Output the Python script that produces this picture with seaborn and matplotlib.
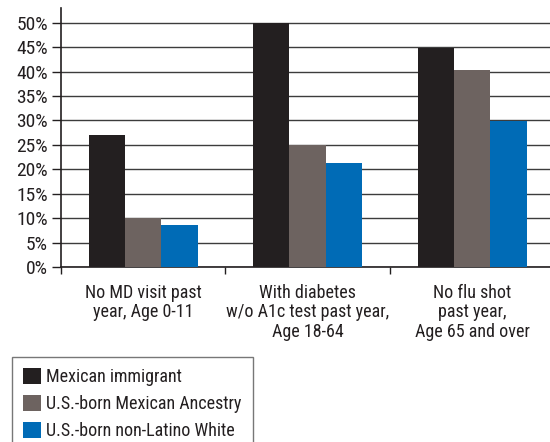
import matplotlib
matplotlib.use("Agg")
import matplotlib.pyplot as plt
from matplotlib import font_manager
import numpy as np
import pandas as pd
import seaborn as sns

categories = [
    "No MD visit past\nyear, Age 0-11",
    "With diabetes\nw/o A1c test past year,\nAge 18-64",
    "No flu shot\npast year,\nAge 65 and over",
]
groups = ["Mexican immigrant", "U.S.-born Mexican Ancestry", "U.S.-born non-Latino White"]
mexican_immigrant = [27.0, 50.0, 44.8]
us_born_mexican = [10.0, 25.0, 40.4]
us_born_white = [8.6, 21.3, 29.8]
colors = ["#231f20", "#6d6360", "#006bb6"]
y_ticks = [0, 5, 10, 15, 20, 25, 30, 35, 40, 45, 50]
y_tick_labels = [f"{v}%" for v in y_ticks]

rows = []
for g, vals in zip(groups, [mexican_immigrant, us_born_mexican, us_born_white]):
    for c, v in zip(categories, vals):
        rows.append({"category": c, "group": g, "value": v})
df = pd.DataFrame(rows)

sns.set_theme(style="white")

# pick a narrow sans face when one is installed
entries = font_manager.fontManager.ttflist
names = {f.name for f in entries}
family = None
for cand in ["Liberation Sans Narrow", "Roboto Condensed", "Open Sans Condensed",
             "DejaVu Sans Condensed"]:
    if cand in names:
        family = cand
        break
stretch = "normal"
if family is None:
    condensed = [f for f in entries if f.name in ("DejaVu Sans", "Roboto", "Open Sans")
                 and str(f.stretch) in ("condensed", "semi-condensed", "75", "87")
                 and f.style == "normal"]
    if condensed:
        family = condensed[0].name
        stretch = "condensed"
    else:
        family = "DejaVu Sans"
plt.rcParams["font.family"] = [family, "DejaVu Sans"]
plt.rcParams["font.stretch"] = stretch
fs = 13
fs_y = 14

fig = plt.figure(figsize=(5.5, 4.42), dpi=100)
ax = fig.add_axes([61 / 550, 1 - 267 / 442, 1 - 61 / 550, (267 - 8) / 442])

sns.barplot(data=df, x="category", y="value", hue="group", order=categories,
            hue_order=groups, palette=colors, width=0.665, gap=0,
            saturation=1, linewidth=0, ax=ax, zorder=3, legend=True)

ax.set_ylim(0, 53)
ax.set_xlim(-0.5, 2.473)
ax.set_yticks(y_ticks)
ax.set_yticklabels(y_tick_labels, fontsize=fs_y, color="#231f20")
ax.yaxis.grid(True, color="#3c3c3c", linewidth=1.0, zorder=0)
ax.set_axisbelow(True)

ax.set_xticks([-0.5, 0.5, 1.5])
ax.set_xticklabels([])
ax.set_xticks([0, 1, 2], minor=True)
ax.set_xticklabels(categories, minor=True, fontsize=fs, color="#231f20",
                   linespacing=1.12)
ax.tick_params(axis="x", which="major", direction="out", length=5, width=1,
               color="#231f20", bottom=True)
ax.tick_params(axis="x", which="minor", length=0, pad=12)
ax.tick_params(axis="y", direction="out", length=6.5, width=1, color="#231f20",
               left=True, pad=3)

ax.set_xlabel("")
ax.set_ylabel("")
for side in ["top", "right"]:
    ax.spines[side].set_visible(False)
for side in ["left", "bottom"]:
    ax.spines[side].set_color("#231f20")
    ax.spines[side].set_linewidth(1.2)

handles, labels = ax.get_legend_handles_labels()
ax.get_legend().remove()
leg = fig.legend(handles, labels, loc="upper left",
                 bbox_to_anchor=(12 / 550, 1 - 357 / 442),
                 bbox_transform=fig.transFigure, fontsize=fs,
                 frameon=True, fancybox=False, edgecolor="#555555",
                 handlelength=1.0, handleheight=1.0, handletextpad=0.3,
                 labelspacing=0.48, borderpad=0.6, borderaxespad=0)
leg.get_frame().set_linewidth(1.0)
for t in leg.get_texts():
    t.set_color("#231f20")

fig.savefig("out.png", dpi=100)
